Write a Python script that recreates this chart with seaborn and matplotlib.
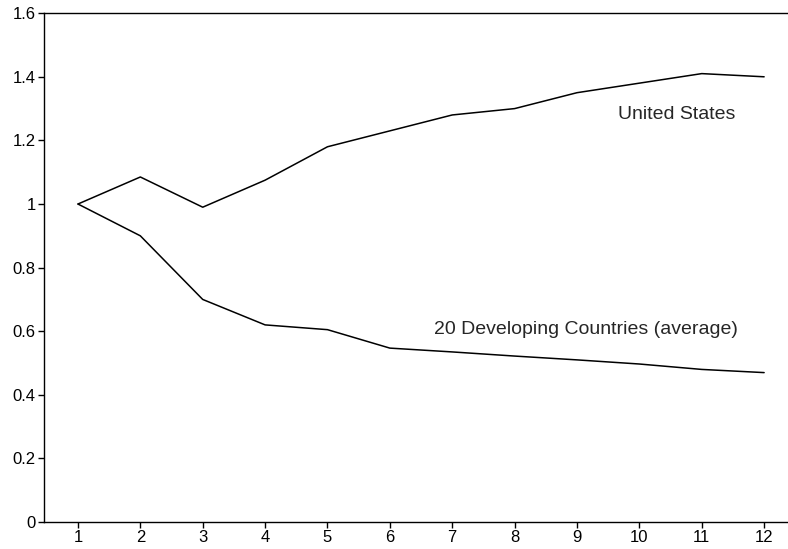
import matplotlib
matplotlib.use("Agg")
import matplotlib.pyplot as plt
import seaborn as sns
import pandas as pd

years = list(range(1, 13))
us_values = [1.0, 1.085, 0.99, 1.075, 1.18, 1.23, 1.28, 1.30, 1.35, 1.38, 1.41, 1.40]
dev_values = [1.0, 0.90, 0.70, 0.62, 0.605, 0.547, 0.535, 0.522, 0.51, 0.497, 0.48, 0.47]
series_names = ["United States", "20 Developing Countries (average)"]
y_ticks = [0, 0.2, 0.4, 0.6, 0.8, 1.0, 1.2, 1.4, 1.6]
y_tick_labels = ["0", "0.2", "0.4", "0.6", "0.8", "1", "1.2", "1.4", "1.6"]

df = pd.DataFrame({
    "x": years * 2,
    "value": us_values + dev_values,
    "series": [series_names[0]] * 12 + [series_names[1]] * 12,
})

sns.set_style("white")
plt.rcParams["font.family"] = ["Liberation Sans", "DejaVu Sans"]

fig = plt.figure(figsize=(7.88, 5.49), dpi=100)
ax = fig.add_axes([0.0558, 0.049, 0.944, 0.927])
sns.lineplot(data=df, x="x", y="value", hue="series",
             palette=["black", "black"], linewidth=1.1, legend=False, ax=ax)

ax.set_xlim(0.455, 12.38)
ax.set_ylim(0, 1.6)
ax.set_xticks(years)
ax.set_xticklabels([str(y) for y in years])
ax.set_yticks(y_ticks)
ax.set_yticklabels(y_tick_labels)
ax.set_xlabel("")
ax.set_ylabel("")
for s in ["left", "bottom", "top"]:
    ax.spines[s].set_visible(True)
    ax.spines[s].set_color("black")
    ax.spines[s].set_linewidth(1.0)
ax.spines["right"].set_visible(False)
ax.tick_params(axis="both", direction="out", length=4, width=1, colors="black",
               labelsize=12, pad=2, left=True, bottom=True)

ax.text(10.6, 1.28, series_names[0], fontsize=14, ha="center", va="center")
ax.text(9.14, 0.604, series_names[1], fontsize=14, ha="center", va="center")

fig.savefig("out.png", dpi=100)
